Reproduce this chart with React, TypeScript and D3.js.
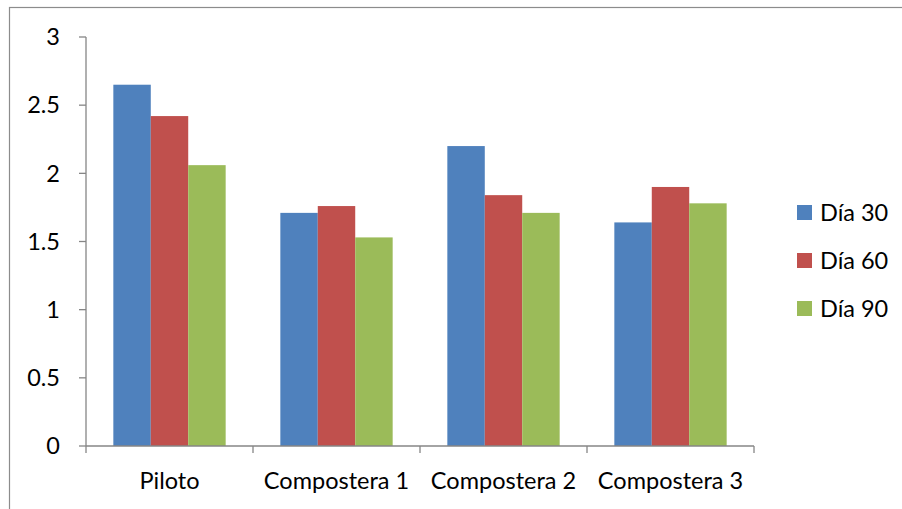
import React from "react";
import * as d3 from "d3";

const categories = ["Piloto", "Compostera 1", "Compostera 2", "Compostera 3"];
const seriesNames = ["Día 30", "Día 60", "Día 90"];
const dia30 = [2.65, 1.71, 2.2, 1.64];
const dia60 = [2.42, 1.76, 1.84, 1.9];
const dia90 = [2.06, 1.53, 1.71, 1.78];
const yTicks = [0, 0.5, 1, 1.5, 2, 2.5, 3];
const colors = ["#4F81BD", "#C0504D", "#9BBB59"];

const W = 902;
const H = 509;
const left = 86;
const right = 754;
const top = 37;
const bottom = 446;
const FONT = "Lato, 'Noto Sans', sans-serif";
const FS = 23.5;

export default function App() {
  const series = [dia30, dia60, dia90];
  const x0 = d3.scaleBand<string>().domain(categories).range([left, right]).paddingInner(0).paddingOuter(0);
  const x1 = d3.scaleBand<string>().domain(seriesNames).range([0, x0.bandwidth()]).paddingInner(0).paddingOuter(0.73);
  const y = d3.scaleLinear().domain([0, 3]).range([bottom, top]);

  return (
    <svg width={W} height={H} style={{ position: "absolute", left: 0, top: 0, background: "#fff" }} fontFamily={FONT}>
      <rect x={0} y={0} width={W} height={H} fill="#fff" />
      <rect x={9.5} y={7.5} width={W + 20} height={H + 20} fill="none" stroke="#8c8c8c" strokeWidth={1.2} />
      {categories.map((c, i) =>
        series.map((s, j) => (
          <rect
            key={c + j}
            x={(x0(c) as number) + (x1(seriesNames[j]) as number)}
            y={y(s[i])}
            width={x1.bandwidth()}
            height={bottom - y(s[i])}
            fill={colors[j]}
          />
        ))
      )}
      {/* y axis */}
      <line x1={left} x2={left} y1={top} y2={bottom} stroke="#868686" strokeWidth={1.3} />
      {yTicks.map((t) => (
        <g key={t}>
          <line x1={left - 7} x2={left} y1={y(t)} y2={y(t)} stroke="#868686" strokeWidth={1.3} />
          <text x={60} y={y(t)} dy="0.35em" textAnchor="end" fontSize={FS} fill="#000">
            {t}
          </text>
        </g>
      ))}
      {/* x axis */}
      <line x1={left} x2={right} y1={bottom} y2={bottom} stroke="#868686" strokeWidth={1.3} />
      {d3.range(categories.length + 1).map((k) => {
        const xx = left + k * x0.step();
        return <line key={k} x1={xx} x2={xx} y1={bottom} y2={bottom + 7} stroke="#868686" strokeWidth={1.3} />;
      })}
      {categories.map((c) => (
        <text key={c} x={(x0(c) as number) + x0.bandwidth() / 2} y={489} textAnchor="middle" fontSize={FS} fill="#000">
          {c}
        </text>
      ))}
      {/* legend */}
      {seriesNames.map((n, j) => (
        <g key={n} transform={`translate(797, ${205 + j * 48})`}>
          <rect x={0} y={0} width={15} height={15} fill={colors[j]} />
          <text x={23} y={7.5} dy="0.36em" fontSize={FS} fill="#000">
            {n}
          </text>
        </g>
      ))}
    </svg>
  );
}
